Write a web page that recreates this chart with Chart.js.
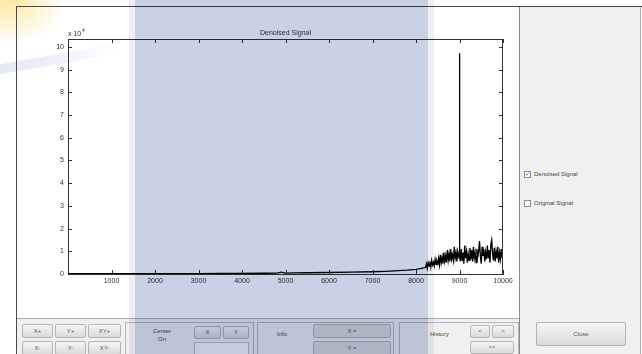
<!DOCTYPE html>
<html>
<head>
<meta charset="utf-8">
<script src="https://cdn.jsdelivr.net/npm/chart.js@4.4.0/dist/chart.umd.min.js"></script>
<style>
body { margin:0; width:642px; height:354px; overflow:hidden; background:#fff; position:relative;
  font-family:"Liberation Sans", Arial, sans-serif; }
.a { position:absolute; box-sizing:border-box; }
.btn { position:absolute; box-sizing:border-box; background:linear-gradient(#f6f6f6,#dadada);
  border:1px solid #b4b4b4; border-radius:2px; font-size:6px; color:#555; text-align:center; }
.panel { position:absolute; box-sizing:border-box; border:1px solid #b8b8b8; }
.lbl { position:absolute; font-size:6px; color:#444; }
#chart { position:absolute; left:0; top:0; }
</style>
</head>
<body>
<!-- watermark smudges at top left -->
<div class="a" style="left:0;top:0;width:60px;height:40px;background:radial-gradient(ellipse at 10px 0px, rgba(250,222,120,0.7), rgba(250,230,160,0.3) 55%, rgba(255,255,255,0) 80%);"></div>
<div class="a" style="left:-10px;top:66px;width:130px;height:10px;transform:rotate(-10deg);transform-origin:0 50%;background:linear-gradient(90deg, rgba(190,202,232,0.45), rgba(205,213,238,0.3) 60%, rgba(255,255,255,0));"></div>

<!-- figure frame -->
<div class="a" style="left:16px;top:6px;width:626px;height:1px;background:#4a4a4a;"></div>
<div class="a" style="left:16px;top:6px;width:1px;height:348px;background:#4a4a4a;"></div>

<!-- right side panel -->
<div class="a" style="left:519px;top:7px;width:122px;height:347px;background:#f0f0f0;border-left:1px solid #8a8a8a;border-right:1px solid #b0b0b0;"></div>
<div class="a" style="left:524px;top:171px;width:7px;height:7px;background:#fff;border:1px solid #8a8a8a;font-size:6px;line-height:5px;color:#3a4a9a;text-align:center;">✓</div>
<div class="lbl" style="left:534px;top:171px;">Denoised Signal</div>
<div class="a" style="left:524px;top:200px;width:7px;height:7px;background:#fff;border:1px solid #8a8a8a;"></div>
<div class="lbl" style="left:534px;top:200px;">Original Signal</div>
<div class="btn" style="left:536px;top:322px;width:90px;height:24px;line-height:22px;">Close</div>

<!-- bottom control strip -->
<div class="a" style="left:17px;top:318px;width:502px;height:36px;background:#f0f0f0;border-top:1px solid #b0b0b0;"></div>
<div class="btn" style="left:22px;top:324px;width:31px;height:14px;line-height:12px;">X+</div>
<div class="btn" style="left:55px;top:324px;width:31px;height:14px;line-height:12px;">Y+</div>
<div class="btn" style="left:88px;top:324px;width:33px;height:14px;line-height:12px;">XY+</div>
<div class="btn" style="left:22px;top:341px;width:31px;height:14px;line-height:12px;">X-</div>
<div class="btn" style="left:55px;top:341px;width:31px;height:14px;line-height:12px;">Y-</div>
<div class="btn" style="left:88px;top:341px;width:33px;height:14px;line-height:12px;">XY-</div>

<div class="panel" style="left:125px;top:322px;width:129px;height:34px;"></div>
<div class="lbl" style="left:145px;top:327px;width:34px;text-align:center;line-height:8px;">Center<br>On</div>
<div class="btn" style="left:194px;top:326px;width:27px;height:13px;line-height:11px;">X</div>
<div class="btn" style="left:223px;top:326px;width:26px;height:13px;line-height:11px;">Y</div>
<div class="a" style="left:194px;top:342px;width:55px;height:13px;background:#f8f8f8;border:1px solid #c0c0c0;"></div>

<div class="panel" style="left:257px;top:322px;width:137px;height:34px;"></div>
<div class="lbl" style="left:277px;top:331px;">Info</div>
<div class="btn" style="left:313px;top:324px;width:78px;height:14px;line-height:12px;background:#dcdcdc;">X =</div>
<div class="btn" style="left:313px;top:341px;width:78px;height:14px;line-height:12px;background:#dcdcdc;">Y =</div>

<div class="panel" style="left:399px;top:322px;width:120px;height:34px;"></div>
<div class="lbl" style="left:430px;top:331px;">History</div>
<div class="btn" style="left:470px;top:325px;width:20px;height:13px;line-height:11px;">&lt;</div>
<div class="btn" style="left:492px;top:325px;width:22px;height:13px;line-height:11px;">&gt;</div>
<div class="btn" style="left:470px;top:341px;width:44px;height:13px;line-height:11px;">&lt;&lt;</div>

<canvas id="chart" width="642" height="354"></canvas>

<!-- translucent selection band -->
<div class="a" style="left:129px;top:0;width:6px;height:354px;background:#eceff6;mix-blend-mode:multiply;"></div>
<div class="a" style="left:135px;top:0;width:293px;height:354px;background:#c9d1e4;mix-blend-mode:multiply;"></div>
<div class="a" style="left:428px;top:0;width:6px;height:354px;background:#eceff6;mix-blend-mode:multiply;"></div>

<script>
// denoised signal, y in units of 10^4
const trendX = [0, 500, 1000, 1500, 2000, 2500, 3000, 3500, 4000, 4500, 4800, 4900, 5000, 5200,
  5500, 6000, 6500, 7000, 7300, 7500, 7800, 8000, 8100, 8200];
const trendY = [0.01, 0.01, 0.012, 0.014, 0.015, 0.018, 0.02, 0.024, 0.028, 0.034, 0.04, 0.08, 0.04, 0.05,
  0.055, 0.065, 0.08, 0.1, 0.12, 0.14, 0.17, 0.2, 0.24, 0.28];

// noisy tail before the spike, samples every 20 from 8220
const tailStart = 8220;
const tailStep = 20;
const tailY = [0.30, 0.45, 0.25, 0.50, 0.35, 0.55, 0.30, 0.60, 0.40, 0.52, 0.35, 0.65, 0.42, 0.58, 0.45,
  0.70, 0.40, 0.85, 0.50, 0.75, 0.45, 0.95, 0.55, 0.80, 0.50, 1.05, 0.60, 0.90, 0.55, 1.10,
  0.65, 0.85, 0.60, 1.20, 0.70, 0.95, 0.55, 1.00];

// the spike at 9000
const spikeX = [8990, 9000, 9003, 9006];
const spikeY = [0.70, 9.72, 2.70, 0.80];

// noisy tail after the spike, samples every 20 from 9020
const endStart = 9020;
const endY = [0.55, 1.10, 0.60, 0.95, 0.45, 1.25, 0.70, 1.00, 0.50, 0.90,
  0.60, 1.15, 0.65, 1.05, 0.55, 1.20, 0.70, 0.95, 0.50, 1.10,
  0.75, 1.00, 1.45, 0.80, 0.45, 1.20, 0.80, 1.10, 0.55, 0.95,
  0.65, 1.25, 0.70, 1.05, 0.50, 1.30, 1.50, 0.90, 0.60, 1.15,
  0.55, 1.00, 0.70, 1.20, 0.50, 0.95, 0.65, 1.10, 0.75, 0.80];

const xTicks = [1000, 2000, 3000, 4000, 5000, 6000, 7000, 8000, 9000, 10000];
const yTicks = [0, 1, 2, 3, 4, 5, 6, 7, 8, 9, 10];

let points = [];
trendX.forEach((x, i) => points.push({x: x, y: trendY[i]}));
tailY.forEach((y, i) => points.push({x: tailStart + i * tailStep, y: y}));
spikeX.forEach((x, i) => points.push({x: x, y: spikeY[i]}));
endY.forEach((y, i) => points.push({x: endStart + i * tailStep, y: y}));

const font = {family: "'Liberation Sans', Arial, sans-serif", size: 7};

// MATLAB style box: top/right edges, inward ticks, title and exponent
const boxPlugin = {
  id: "box",
  afterDraw(chart) {
    const ctx = chart.ctx;
    const a = chart.chartArea;
    const xs = chart.scales.x, ys = chart.scales.y;
    ctx.save();
    ctx.strokeStyle = "#333";
    ctx.lineWidth = 1;
    ctx.beginPath();
    ctx.moveTo(a.left, a.top + 0.5);
    ctx.lineTo(a.right, a.top + 0.5);
    ctx.moveTo(a.right - 0.5, a.top);
    ctx.lineTo(a.right - 0.5, a.bottom);
    xTicks.forEach(v => {
      const px = Math.round(xs.getPixelForValue(v)) + 0.5;
      ctx.moveTo(px, a.bottom);
      ctx.lineTo(px, a.bottom - 4);
      ctx.moveTo(px, a.top);
      ctx.lineTo(px, a.top + 4);
    });
    yTicks.forEach(v => {
      const py = Math.round(ys.getPixelForValue(v)) + 0.5;
      ctx.moveTo(a.left, py);
      ctx.lineTo(a.left + 4, py);
      ctx.moveTo(a.right, py);
      ctx.lineTo(a.right - 4, py);
    });
    ctx.stroke();

    ctx.fillStyle = "#333";
    ctx.font = "7px 'Liberation Sans', Arial, sans-serif";
    ctx.textAlign = "center";
    ctx.textBaseline = "middle";
    ctx.fillText("Denoised Signal", (a.left + a.right) / 2, 33);
    ctx.textAlign = "left";
    ctx.fillText("x 10", a.left, 34);
    ctx.font = "5px 'Liberation Sans', Arial, sans-serif";
    ctx.fillText("4", a.left + 14, 31);
    ctx.restore();
  }
};

new Chart(document.getElementById("chart"), {
  type: "scatter",
  data: {
    datasets: [{
      data: points,
      showLine: true,
      borderColor: "#000",
      borderWidth: 1.3,
      pointRadius: 0,
    }],
  },
  options: {
    responsive: false,
    animation: false,
    layout: { padding: {left: 48, right: 139, top: 39, bottom: 60} },
    plugins: { legend: {display: false}, tooltip: {enabled: false} },
    scales: {
      x: {
        type: "linear",
        min: 0,
        max: 10000,
        afterBuildTicks: s => { s.ticks = xTicks.map(v => ({value: v})); },
        afterFit: s => { s.height = 20; },
        grid: {display: false, drawTicks: false},
        border: {display: true, color: "#333", width: 1},
        ticks: {font: font, color: "#333", padding: 3, maxRotation: 0, autoSkip: false,
          callback: v => String(v)},
      },
      y: {
        min: 0,
        max: 10.35,
        afterBuildTicks: s => { s.ticks = yTicks.map(v => ({value: v})); },
        afterFit: s => { s.width = 20; },
        grid: {display: false, drawTicks: false},
        border: {display: true, color: "#333", width: 1},
        ticks: {font: font, color: "#333", padding: 4, callback: v => String(v)},
      },
    },
  },
  plugins: [boxPlugin],
});
</script>
</body>
</html>
